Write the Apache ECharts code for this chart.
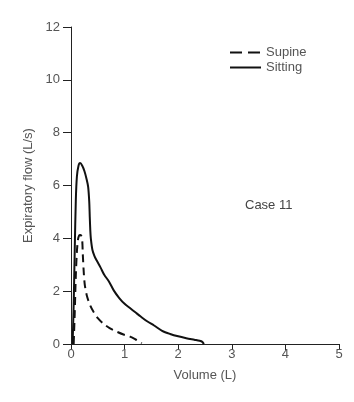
<!DOCTYPE html>
<html>
<head>
<meta charset="utf-8">
<script src="https://cdn.jsdelivr.net/npm/echarts@6/dist/echarts.min.js"></script>
<style>
  html, body { margin: 0; padding: 0; background: #fff; }
  #chart { width: 354px; height: 402px; }
</style>
</head>
<body>
<div id="chart"></div>
<script>
// volume (L), flow (L/s)
const sittingVolume = [0.03, 0.05, 0.07, 0.09, 0.11, 0.14, 0.17, 0.21, 0.25, 0.29, 0.32, 0.34, 0.35, 0.36, 0.37, 0.40, 0.44, 0.48, 0.55, 0.62, 0.71, 0.80, 0.90, 1.00, 1.10, 1.20, 1.30, 1.42, 1.55, 1.70, 1.85, 2.00, 2.15, 2.30, 2.40, 2.45, 2.48]
const sittingFlow   = [0.00, 1.50, 3.60, 5.45, 6.34, 6.75, 6.85, 6.75, 6.55, 6.25, 5.95, 5.40, 4.82, 4.30, 4.00, 3.56, 3.32, 3.16, 2.90, 2.62, 2.36, 2.02, 1.74, 1.52, 1.36, 1.20, 1.04, 0.86, 0.70, 0.50, 0.38, 0.29, 0.22, 0.16, 0.12, 0.08, 0.00]
const supineVolume  = [0.05, 0.07, 0.09, 0.11, 0.13, 0.15, 0.17, 0.19, 0.21, 0.22, 0.24, 0.26, 0.30, 0.36, 0.42, 0.50, 0.60, 0.72, 0.85, 0.98, 1.10, 1.20, 1.27, 1.32]
const supineFlow    = [0.00, 1.20, 2.60, 3.50, 3.95, 4.10, 4.13, 4.10, 3.90, 3.40, 2.65, 2.20, 1.80, 1.45, 1.22, 0.98, 0.78, 0.60, 0.47, 0.36, 0.28, 0.18, 0.10, 0.03]
const xTicks = [0, 1, 2, 3, 4, 5]
const yTicks = [0, 2, 4, 6, 8, 10, 12]

const toPairs = (xs, ys) => xs.map((x, i) => [x, ys[i]])

const chart = echarts.init(document.getElementById('chart'))
const axisColor = '#222'
const labelColor = '#555'
const font = 'Liberation Sans, Arial, sans-serif'

chart.setOption({
  animation: false,
  backgroundColor: '#fff',
  textStyle: { fontFamily: font },
  grid: { left: 71, right: 15, top: 27, bottom: 58 },
  legend: {
    orient: 'vertical',
    left: 224,
    top: 41,
    itemWidth: 31,
    itemHeight: 12,
    itemGap: 2,
    itemStyle: { opacity: 0 },
    textStyle: { fontSize: 13, color: labelColor, fontFamily: font },
    data: [
      { name: 'Supine', lineStyle: { type: [12, 6] } },
      { name: 'Sitting' }
    ]
  },
  xAxis: {
    type: 'value',
    min: xTicks[0],
    max: xTicks[xTicks.length - 1],
    interval: 1,
    name: 'Volume (L)',
    nameLocation: 'middle',
    nameGap: 25,
    nameTextStyle: { fontSize: 13, color: labelColor, fontFamily: font },
    axisLine: { lineStyle: { color: axisColor, width: 1 } },
    axisTick: { length: 6, lineStyle: { color: axisColor } },
    axisLabel: { fontSize: 13, color: labelColor, margin: 4 },
    splitLine: { show: false }
  },
  yAxis: {
    type: 'value',
    min: yTicks[0],
    max: yTicks[yTicks.length - 1],
    interval: 2,
    name: 'Expiratory flow (L/s)',
    nameLocation: 'middle',
    nameGap: 35,
    nameTextStyle: { fontSize: 13, color: labelColor, fontFamily: font },
    axisLine: { show: true, lineStyle: { color: axisColor, width: 1 } },
    axisTick: { show: true, length: 8, lineStyle: { color: axisColor } },
    axisLabel: { fontSize: 13, color: labelColor, margin: 11 },
    splitLine: { show: false }
  },
  graphic: [{
    type: 'text',
    left: 245,
    top: 199,
    style: { text: 'Case 11', fontSize: 13, fill: '#444', fontFamily: font }
  }],
  series: [
    {
      name: 'Supine',
      type: 'line',
      data: toPairs(supineVolume, supineFlow),
      showSymbol: false,
      symbol: 'none',
      smooth: 0.3,
      lineStyle: { color: '#111', width: 2, type: [8, 5] },
      itemStyle: { color: '#111' }
    },
    {
      name: 'Sitting',
      type: 'line',
      data: toPairs(sittingVolume, sittingFlow),
      showSymbol: false,
      symbol: 'none',
      smooth: 0.3,
      lineStyle: { color: '#111', width: 2 },
      itemStyle: { color: '#111' }
    }
  ]
})
</script>
</body>
</html>
